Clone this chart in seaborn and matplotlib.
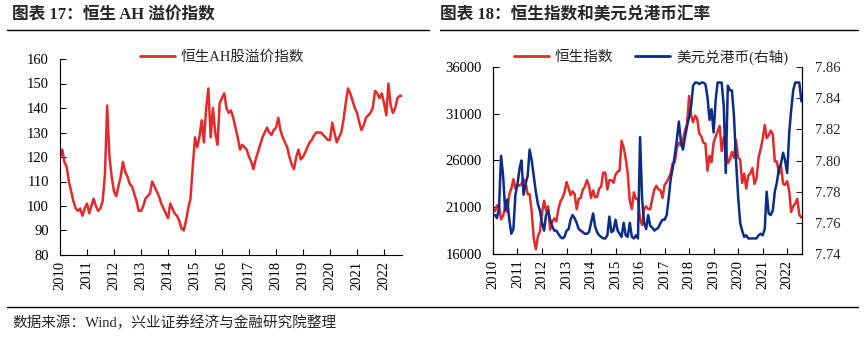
import numpy as np
import pandas as pd
import matplotlib
matplotlib.use('Agg')
import matplotlib.pyplot as plt
import matplotlib.dates as mdates
from matplotlib.lines import Line2D
import matplotlib.ticker as mticker
import seaborn as sns

# ---------------- data (monthly readings) ----------------
ah_premium = [
    120, 123, 118, 116, 110, 106, 102, 99, 98, 99, 96, 99,
    101, 97, 100, 103, 100, 98, 99, 102, 113, 141, 120, 112,
    106, 104, 108, 112, 118, 114, 112, 109, 108, 105, 102, 98,
    98, 100, 103, 104, 105, 110, 108, 106, 104, 101, 99, 97,
    95, 101, 99, 97, 96, 94, 91, 90, 94, 99, 103, 116,
    128, 124, 128, 135, 126, 140, 148, 128, 140, 130, 125, 142,
    144, 146, 140, 138, 139, 136, 132, 128, 123, 125, 124, 123,
    120, 118, 115, 119, 122, 125, 128, 130, 132, 130, 129, 131,
    132, 136, 131, 128, 126, 124, 120, 117, 115, 120, 123, 119,
    120, 122, 124, 126, 127, 129, 130, 130, 130, 129, 128, 127,
    127, 134, 130, 126, 128, 130, 135, 142, 148, 146, 143, 140,
    138, 134, 131, 133, 136, 137, 138, 140, 147, 146, 144, 146,
    142, 137, 150, 141, 138, 140, 144, 145, 145,
]

hsi = [
    20800, 20600, 21200, 21100, 19700, 20100, 21000, 20500, 22400, 23000, 24000, 23000,
    23400, 23300, 23500, 24000, 23700, 22400, 22400, 20500, 17600, 16500, 17900, 18400,
    20400, 21700, 20600, 21100, 18600, 19400, 19800, 19500, 20800, 21600, 22000, 22600,
    23700, 23000, 22300, 22700, 22400, 20800, 21900, 22000, 22900, 23200, 23900, 23300,
    22000, 22800, 22100, 22100, 23000, 23200, 24700, 24700, 22900, 23900, 23900, 23600,
    24500, 24800, 24900, 28100, 27400, 26200, 24600, 21700, 20800, 22600, 21900, 21900,
    19700, 19100, 20800, 21100, 20800, 20800, 21900, 22900, 23300, 22900, 22800, 22000,
    23400, 23700, 24100, 24600, 25700, 25800, 27300, 27900, 27600, 28200, 29200, 29900,
    32900, 30800, 30100, 30800, 30500, 28900, 28600, 27900, 27800, 24900, 26500, 25800,
    27900, 28600, 29100, 29700, 27000, 28500, 27800, 25700, 26100, 26900, 26300, 28200,
    26300, 26100, 23600, 24600, 23000, 24400, 24600, 25200, 23500, 24100, 26300, 27200,
    28300, 29800, 28400, 28700, 29200, 28800, 25900, 25900, 24600, 25400, 23500, 23400,
    23800, 22700, 20500, 21100, 21400, 21900, 20200, 19900,
]

usdhkd = [
    7.765, 7.765, 7.763, 7.770, 7.803, 7.790, 7.768, 7.775, 7.762, 7.753, 7.756, 7.778,
    7.785, 7.795, 7.800, 7.778, 7.785, 7.790, 7.807, 7.800, 7.790, 7.780, 7.772, 7.768,
    7.760, 7.755, 7.765, 7.768, 7.762, 7.758, 7.755, 7.755, 7.753, 7.751, 7.750, 7.751,
    7.755, 7.756, 7.762, 7.765, 7.763, 7.760, 7.756, 7.755, 7.754, 7.753, 7.753, 7.754,
    7.760, 7.766, 7.758, 7.754, 7.752, 7.751, 7.750, 7.750, 7.752, 7.764, 7.754, 7.755,
    7.762, 7.755, 7.753, 7.751, 7.760, 7.752, 7.751, 7.760, 7.751, 7.750, 7.752, 7.750,
    7.815, 7.775, 7.760, 7.756, 7.765, 7.758, 7.757, 7.755, 7.756, 7.757, 7.760, 7.762,
    7.762, 7.765, 7.775, 7.788, 7.795, 7.803, 7.813, 7.825, 7.812, 7.807, 7.815, 7.822,
    7.828, 7.835, 7.848, 7.850, 7.850, 7.849, 7.850, 7.850, 7.849, 7.841, 7.826, 7.833,
    7.818, 7.839, 7.850, 7.850, 7.850, 7.835, 7.792, 7.848, 7.845, 7.845, 7.828, 7.800,
    7.777, 7.760, 7.755, 7.751, 7.752, 7.750, 7.750, 7.750, 7.750, 7.750, 7.752, 7.753,
    7.752, 7.756, 7.780, 7.766, 7.765, 7.768, 7.780, 7.786, 7.795, 7.798, 7.805, 7.800,
    7.792, 7.818, 7.832, 7.845, 7.850, 7.850, 7.850, 7.838,
]

year_ticks = list(range(2010, 2023))
left_title = "图表 17：恒生 AH 溢价指数"
right_title = "图表 18：恒生指数和美元兑港币汇率"
ah_label = "恒生AH股溢价指数"
hsi_label = "恒生指数"
fx_label = "美元兑港币(右轴)"
source_text = "数据来源：Wind，兴业证券经济与金融研究院整理"

RED = '#E32B2B'
BLUE = '#0C2C8A'

# ---------------- style ----------------
sns.set_style('ticks')
plt.rcParams['font.family'] = ['Liberation Serif', 'Noto Sans CJK SC']
plt.rcParams['axes.unicode_minus'] = False

df_ah = pd.DataFrame({'date': pd.date_range('2010-01-01', periods=len(ah_premium), freq='MS'),
                      'value': ah_premium})
df_r = pd.DataFrame({'date': pd.date_range('2010-01-01', periods=len(hsi), freq='MS'),
                     'hsi': hsi, 'fx': usdhkd})

W, H = 865, 338
fig = plt.figure(figsize=(W / 100, H / 100), dpi=100)

def fx(px):
    return px / W

def fy(py):
    return 1 - py / H

TICK_FS = 10.5
LW = 1.8

def style_axis(ax):
    ax.tick_params(axis='both', direction='in', length=4, width=0.8, colors='black',
                   labelsize=TICK_FS)
    ax.tick_params(axis='y', pad=8)
    ax.tick_params(axis='x', pad=4)
    ax.xaxis.set_major_locator(mdates.YearLocator())
    ax.xaxis.set_major_formatter(mdates.DateFormatter('%Y'))
    ax.set_xlabel('')
    ax.set_ylabel('')
    ax.grid(False)

# ---- left chart ----
ax1 = fig.add_axes([fx(60), fy(255), fx(402) - fx(60), fy(59) - fy(255)])
sns.lineplot(data=df_ah, x='date', y='value', ax=ax1, color=RED, lw=LW, legend=False)
ax1.set_ylim(80, 160)
ax1.set_yticks(range(80, 161, 10))
ax1.set_xlim(df_ah['date'].iloc[0], df_ah['date'].iloc[-1])
style_axis(ax1)
for s in ['top', 'right']:
    ax1.spines[s].set_visible(False)
for s in ['left', 'bottom']:
    ax1.spines[s].set_color('black')
    ax1.spines[s].set_linewidth(0.8)
for lab in ax1.get_xticklabels():
    lab.set_rotation(90)

fig.legend(handles=[Line2D([], [], color=RED, lw=2)], labels=[ah_label],
           loc='center left', bbox_to_anchor=(fx(140), fy(57)), frameon=False,
           fontsize=10.5, handlelength=2.4, handletextpad=0.4, borderpad=0,
           borderaxespad=0)

# ---- right chart ----
ax2 = fig.add_axes([fx(493), fy(254), fx(802) - fx(493), fy(67) - fy(254)])
sns.lineplot(data=df_r, x='date', y='hsi', ax=ax2, color=RED, lw=LW, legend=False)
ax2.set_ylim(16000, 36000)
ax2.set_yticks(range(16000, 36001, 5000))
ax3 = ax2.twinx()
sns.lineplot(data=df_r, x='date', y='fx', ax=ax3, color=BLUE, lw=LW, legend=False)
ax3.set_ylim(7.74, 7.86)
ax3.set_yticks(np.arange(7.74, 7.861, 0.02))
ax3.yaxis.set_major_formatter(mticker.FormatStrFormatter('%.2f'))
ax2.set_xlim(df_r['date'].iloc[0], pd.Timestamp('2022-08-10'))
style_axis(ax2)
ax3.tick_params(axis='y', direction='in', length=4, width=0.8, labelsize=TICK_FS, pad=9)
ax3.set_ylabel('')
for lab in ax2.get_xticklabels():
    lab.set_rotation(90)
for a in (ax2, ax3):
    a.spines['top'].set_visible(False)
    for s in ['left', 'bottom', 'right']:
        a.spines[s].set_color('black')
        a.spines[s].set_linewidth(0.8)

fig.legend(handles=[Line2D([], [], color=RED, lw=2), Line2D([], [], color=BLUE, lw=2)],
           labels=[hsi_label, fx_label], ncol=2,
           loc='center left', bbox_to_anchor=(fx(514), fy(57)), frameon=False,
           fontsize=10.5, handlelength=2.4, handletextpad=0.4, borderpad=0,
           borderaxespad=0, columnspacing=1.5)

# ---- titles, rules, source ----
fig.text(fx(12), fy(15), left_title, fontsize=12, fontweight='bold', va='center', ha='left')
fig.text(fx(440), fy(15), right_title, fontsize=12, fontweight='bold', va='center', ha='left')
fig.add_artist(Line2D([fx(7), fx(429)], [fy(30), fy(30)], transform=fig.transFigure,
                      color='black', lw=1))
fig.add_artist(Line2D([fx(440), fx(858)], [fy(30), fy(30)], transform=fig.transFigure,
                      color='black', lw=1))
fig.add_artist(Line2D([fx(7), fx(858)], [fy(307), fy(307)], transform=fig.transFigure,
                      color='black', lw=1))
fig.text(fx(12), fy(323), source_text, fontsize=10.5, va='center', ha='left')

fig.savefig('out.png', dpi=100)
